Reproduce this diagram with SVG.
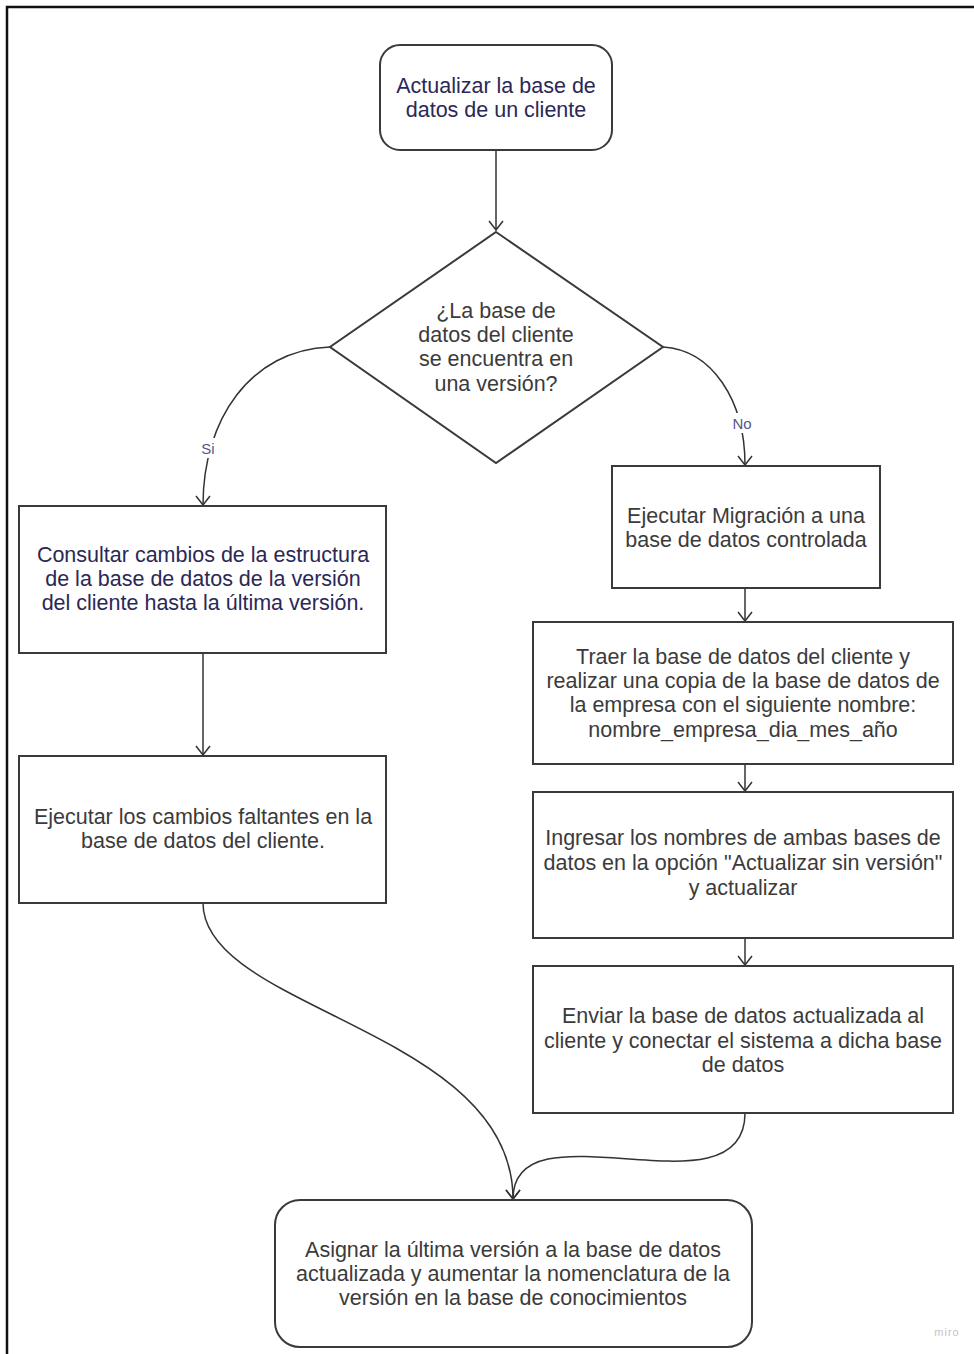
<svg xmlns="http://www.w3.org/2000/svg" width="974" height="1354" viewBox="0 0 974 1354">
  <style>
    .frame { fill: none; stroke: #111; stroke-width: 2.5; }
    .box { fill: #fff; stroke: #3a3a3a; stroke-width: 2; }
    .edge { fill: none; stroke: #333; stroke-width: 1.5; marker-end: url(#arrow); }
    text { font-family: "Liberation Sans", Arial, sans-serif; font-size: 21.5px; text-anchor: middle; }
    .navy { fill: #2b2856; }
    .gray { fill: #3b3b3b; }
    .lbl { fill: #55558a; font-size: 15px; }
    .brand { fill: #c4c4c4; font-size: 11px; letter-spacing: 1px; }
  </style>
  <defs>
    <marker id="arrow" markerUnits="userSpaceOnUse" markerWidth="20" markerHeight="20" viewBox="-12 -10 14 20" refX="0" refY="0" orient="auto">
      <path d="M-9,-7 L0,0 L-9,7" fill="none" stroke="#333" stroke-width="1.5"/>
    </marker>
  </defs>

  <rect width="974" height="1354" fill="#fff"/>
  <path class="frame" d="M7,1354 V7 H974"/>

  <g id="connectors">
    <path class="edge" d="M496,150 V230"/>
    <path class="edge" d="M330,347 C250,350 203,420 203,505"/>
    <path class="edge" d="M663,347 C712,350 745,400 745,465"/>
    <path class="edge" d="M745,588 V621"/>
    <path class="edge" d="M745,764 V791"/>
    <path class="edge" d="M745,938 V965"/>
    <path class="edge" d="M203,653 V755"/>
    <path class="edge" d="M203,903 C203,1010 513,1030 513,1199"/>
    <path class="edge" d="M745,1113 C745,1220 513,1100 513,1199"/>
    <rect x="196" y="438" width="24" height="20" fill="#fff"/>
    <text class="lbl" x="208" y="454">Si</text>
    <rect x="728" y="413" width="28" height="20" fill="#fff"/>
    <text class="lbl" x="742" y="429">No</text>
  </g>

  <g id="start">
    <rect class="box" x="380" y="45" width="232" height="105" rx="20"/>
    <text class="navy" x="496" y="93">Actualizar la base de</text>
    <text class="navy" x="496" y="117">datos de un cliente</text>
  </g>

  <g id="decision">
    <polygon class="box" points="496,232 663,347 496,463 330,347"/>
    <text class="gray" x="496" y="318">¿La base de</text>
    <text class="gray" x="496" y="342">datos del cliente</text>
    <text class="gray" x="496" y="366">se encuentra en</text>
    <text class="gray" x="496" y="391">una versión?</text>
  </g>

  <g id="consultar">
    <rect class="box" x="19" y="506" width="367" height="147"/>
    <text class="navy" x="203" y="562">Consultar cambios de la estructura</text>
    <text class="navy" x="203" y="586">de la base de datos de la versión</text>
    <text class="navy" x="203" y="610">del cliente hasta la última versión.</text>
  </g>

  <g id="ejecutar-cambios">
    <rect class="box" x="19" y="756" width="367" height="147"/>
    <text class="gray" x="203" y="824">Ejecutar los cambios faltantes en la</text>
    <text class="gray" x="203" y="848">base de datos del cliente.</text>
  </g>

  <g id="migracion">
    <rect class="box" x="612" y="466" width="268" height="122"/>
    <text class="gray" x="746" y="523">Ejecutar Migración a una</text>
    <text class="gray" x="746" y="547">base de datos controlada</text>
  </g>

  <g id="traer">
    <rect class="box" x="533" y="622" width="420" height="142"/>
    <text class="gray" x="743" y="664">Traer la base de datos del cliente y</text>
    <text class="gray" x="743" y="688">realizar una copia de la base de datos de</text>
    <text class="gray" x="743" y="712">la empresa con el siguiente nombre:</text>
    <text class="gray" x="743" y="737">nombre_empresa_dia_mes_año</text>
  </g>

  <g id="ingresar">
    <rect class="box" x="533" y="792" width="420" height="146"/>
    <text class="gray" x="743" y="845">Ingresar los nombres de ambas bases de</text>
    <text class="gray" x="743" y="870">datos en la opción "Actualizar sin versión"</text>
    <text class="gray" x="743" y="895">y actualizar</text>
  </g>

  <g id="enviar">
    <rect class="box" x="533" y="966" width="420" height="147"/>
    <text class="gray" x="743" y="1023">Enviar la base de datos actualizada al</text>
    <text class="gray" x="743" y="1048">cliente y conectar el sistema a dicha base</text>
    <text class="gray" x="743" y="1072">de datos</text>
  </g>

  <g id="asignar">
    <rect class="box" x="275" y="1200" width="477" height="147" rx="25"/>
    <text class="gray" x="513" y="1257">Asignar la última versión a la base de datos</text>
    <text class="gray" x="513" y="1281">actualizada y aumentar la nomenclatura de la</text>
    <text class="gray" x="513" y="1305">versión en la base de conocimientos</text>
  </g>

  <text class="brand" x="947" y="1336">miro</text>
</svg>
